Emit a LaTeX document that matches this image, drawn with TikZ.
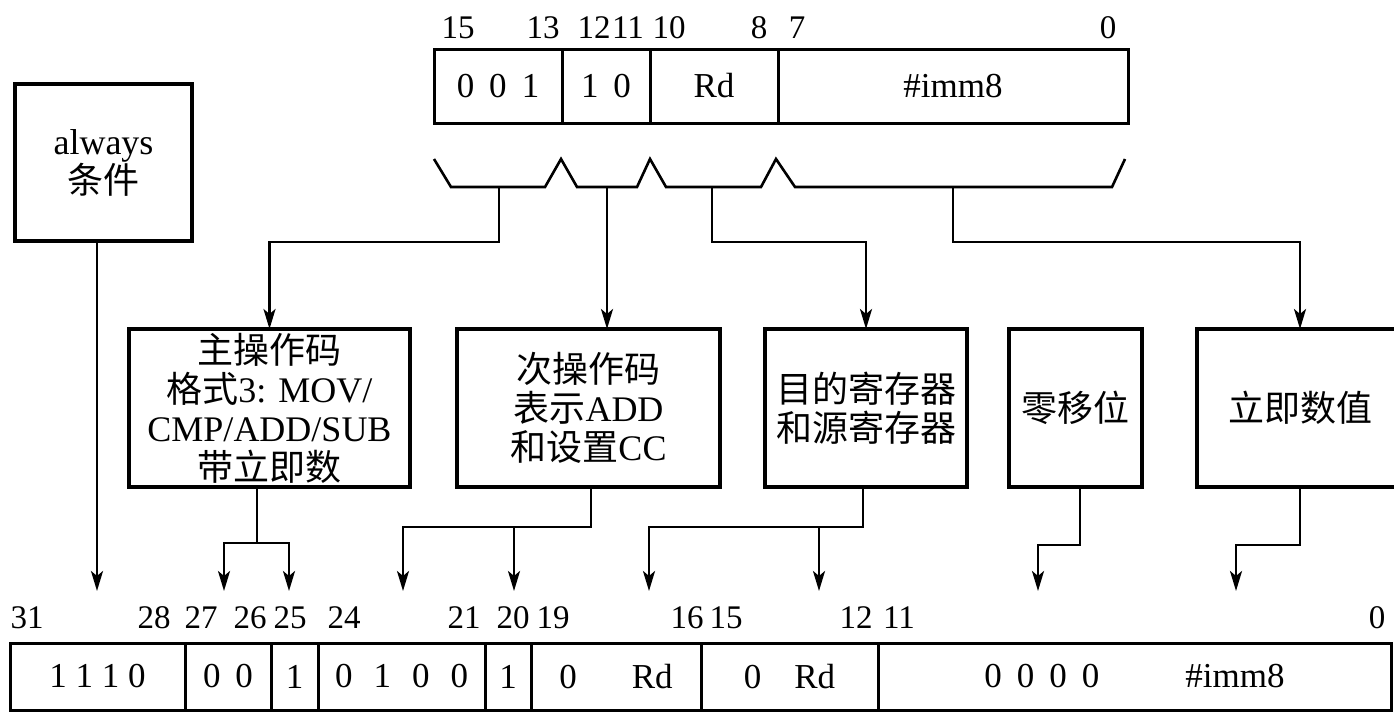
\documentclass[tikz,border=0pt]{standalone}
\usepackage{fontspec}
\setmainfont{Liberation Serif}
\newfontfamily\cjk{Noto Sans CJK SC}
\usetikzlibrary{arrows.meta,calc}
\newcommand{\bitgap}{\hspace{15pt}}

\begin{document}
\begin{tikzpicture}[
  x=1pt, y=-1pt,
  line width=2.6pt,
  box/.style={draw, line width=3.2pt, inner sep=0pt, outer sep=0pt, align=center, font=\fontsize{36}{39}\selectfont},
  topfield/.style={draw, line width=3pt, inner sep=0pt, outer sep=0pt, anchor=west, minimum height=74, font=\fontsize{35}{40}\selectfont},
  lowfield/.style={draw, line width=3pt, inner sep=0pt, outer sep=0pt, anchor=west, minimum height=67, font=\fontsize{35}{40}\selectfont},
  bitnum/.style={inner sep=0pt, font=\fontsize{33}{33}\selectfont},
  arr/.style={-{Stealth[length=20pt,width=12pt,inset=5pt]}}
]
\clip (0,0) rectangle (1394,712);
\foreach \nm/\xl/\xr/\txt in {tA/434/562/{0\bitgap0\bitgap1}, tB/562/650/{1\bitgap0}, tC/650/778/Rd, tD/778/1128/\#imm8}
  \node[topfield, minimum width=(\xr-\xl)*1pt] (\nm) at (\xl,86) {\txt};
\foreach \bit/\xc in {15/458,13/543,12/594,11/628,10/669,8/759,7/797,0/1108}
  \node[bitnum] (t\bit) at (\xc,28) {\bit};
\draw (434,159) -- (451,187) -- (545,187) -- (561,159) -- (577,187) -- (637,187) -- (650,159) -- (666,187)
  -- (761,187) -- (776,159) -- (795,187) -- (1112,187) -- (1125,159);
\coordinate (sA) at (499,187);
\coordinate (sB) at (607,187);
\coordinate (sC) at (712,187);
\coordinate (sD) at (953,187);
\node[box, minimum width=177, minimum height=157] (cond) at (103.5,162.5) {always\\{\cjk 条件}};
\node[box, minimum width=281, minimum height=158] (opA) at (269.5,408) {{\cjk 主操作码}\\{\cjk 格式}3: MOV/\\CMP/ADD/SUB\\{\cjk 带立即数}};
\node[box, minimum width=263, minimum height=158] (opB) at (588.5,408) {{\cjk 次操作码}\\{\cjk 表示}ADD\\{\cjk 和设置}CC};
\node[box, minimum width=202, minimum height=158] (regs) at (866,408) {{\cjk 目的寄存器}\\{\cjk 和源寄存器}};
\node[box, minimum width=133, minimum height=158] (shift) at (1075.5,408) {{\cjk 零移位}};
\node[box, minimum width=206, minimum height=158] (imm) at (1300,408) {{\cjk 立即数值}};
\foreach \nm/\xl/\xr/\txt in {bA/10/185/{1\ 1\ 1\ 0}, bB/185/271/{0\bitgap0}, bC/271/318/1,
    bD/318/485/{0\hspace{21pt}1\hspace{21pt}0\hspace{21pt}0}, bE/485/531/1, bF/531/701/{0\hspace{55pt}Rd},
    bG/701/878/{0\hspace{33pt}Rd}, bH/878/1391/{0\bitgap0\bitgap0\bitgap0\hspace{86pt}\#imm8\hspace{22pt}}}
  \node[lowfield, minimum width=(\xr-\xl)*1pt] (\nm) at (\xl,676.5) {\txt};
\foreach \bit/\xc in {31/27,28/154,27/201,26/250,25/290,24/344,21/464,20/513,19/553,16/687,15/726,12/856,11/899,0/1377}
  \node[bitnum] (n\bit) at (\xc,618) {\bit};
\foreach \nm/\xc in {e31/97,e27/224,e25/289,e24/403,e20/514,e19/649,e15/819,e11/1038,e0/1236}
  \coordinate (\nm) at (\xc,591);
\draw[arr] (sA) -- ++(0,55) -| (opA.north);
\draw[arr] (sB) -- (sB |- opB.north);
\draw[arr] (sC) -- ++(0,55) -| (regs.north);
\draw[arr] (sD) -- ++(0,55) -| (imm.north);
\draw[arr] (cond.south -| e31) -- (e31);
\coordinate (jA) at (257,543);
\draw[arr] (opA.south -| jA) -- (jA) -| (e27);
\draw[arr] (jA) -| (e25);
\coordinate (jB) at (591,527);
\draw[arr] (opB.south -| jB) -- (jB) -| (e24);
\draw[arr] (jB) -| (e20);
\coordinate (jC) at (863,527);
\draw[arr] (regs.south -| jC) -- (jC) -| (e19);
\draw[arr] (jC) -| (e15);
\draw[arr] ([xshift=4.5]shift.south) -- ++(0,58) -| (e11);
\draw[arr] (imm.south) -- ++(0,58) -| (e0);
\end{tikzpicture}
\end{document}
